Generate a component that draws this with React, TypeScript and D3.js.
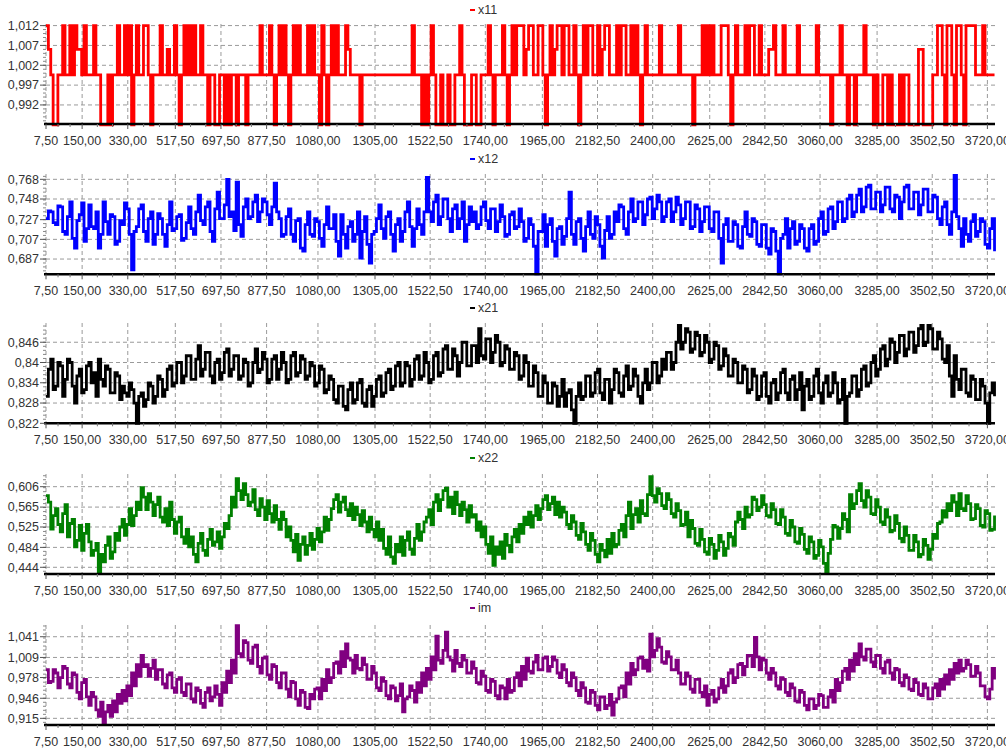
import React from "react";
import * as d3 from "d3";

const X_START = 7.5;
const X_STEP = 9.375;
const X_MAX = 3750;

const xTickValues = [7.5, 150, 330, 517.5, 697.5, 877.5, 1080, 1305, 1522.5, 1740, 1965, 2182.5, 2400, 2625, 2842.5, 3060, 3285, 3502.5, 3720];

const seriesNames = ["x11", "x12", "x21", "x22", "im"];

const x11 = [
  1.012, 1.006, 0.9996, 0.987, 0.987, 0.9996, 0.9996, 1.012, 0.9996, 0.9996, 1.012, 0.9996, 1.012, 1.006, 1.006, 0.9996, 1.012, 0.9996, 0.9996, 0.9996,
  1.012, 0.9996, 0.9996, 0.987, 0.987, 0.987, 0.9996, 0.987, 0.9996, 0.9996, 1.012, 0.9996, 0.9996, 1.012, 0.9996, 1.012, 0.987, 0.9996, 1.012, 0.9996,
  0.9996, 1.012, 1.012, 0.9996, 0.987, 0.9996, 0.9996, 0.9996, 1.012, 0.9996, 0.9996, 1.006, 0.9996, 0.9996, 1.012, 0.9996, 0.987, 0.9996, 1.012, 0.9996,
  1.012, 0.9996, 1.012, 0.9996, 0.9996, 1.012, 0.9996, 0.9996, 0.987, 0.9996, 0.9996, 0.987, 0.987, 0.9996, 0.9996, 0.987, 0.9996, 0.987, 0.9996, 0.9996,
  0.987, 0.9996, 0.9996, 0.9996, 0.987, 0.9996, 0.9996, 0.9996, 0.9996, 0.9996, 1.012, 0.9996, 0.9996, 0.9996, 1.012, 0.9996, 0.987, 0.9996, 1.012, 0.9996,
  1.012, 0.9996, 0.987, 0.9996, 1.012, 0.9996, 1.012, 0.9996, 0.9996, 0.9996, 1.012, 0.9996, 1.012, 0.9996, 0.9996, 0.987, 1.012, 0.9996, 0.987, 0.9996,
  1.012, 0.9996, 1.012, 0.9996, 0.9996, 0.9996, 1.012, 1.006, 0.9996, 0.9996, 0.9996, 0.9996, 0.987, 0.9996, 0.9996, 0.9996, 0.9996, 0.9996, 0.9996, 0.9996,
  0.9996, 0.9996, 0.9996, 0.9996, 0.9996, 0.9996, 0.9996, 0.9996, 0.9996, 0.9996, 0.9996, 0.9996, 0.9996, 0.9996, 1.012, 0.9996, 0.9996, 0.9996, 0.987, 0.9996,
  0.987, 0.9996, 1.012, 0.9996, 0.987, 0.987, 0.9996, 0.987, 0.987, 0.9996, 0.987, 0.987, 0.9996, 0.9996, 1.012, 0.9996, 0.987, 0.987, 0.987, 0.9996,
  0.9996, 0.987, 0.987, 0.9996, 0.9996, 0.9996, 1.012, 0.9996, 0.987, 0.9996, 0.9996, 0.9996, 1.012, 0.9996, 0.987, 0.9996, 1.012, 0.9996, 1.012, 1.012,
  1.012, 0.9996, 1.006, 1.012, 1.012, 0.9996, 0.9996, 1.012, 1.012, 0.9996, 0.987, 0.9996, 1.012, 0.9996, 1.006, 1.012, 1.012, 0.9996, 1.012, 1.012,
  0.9996, 0.9996, 1.012, 0.9996, 0.987, 0.9996, 1.012, 0.9996, 1.012, 1.012, 0.9996, 0.9996, 1.012, 0.9996, 1.006, 1.012, 1.012, 0.9996, 0.9996, 0.9996,
  1.012, 0.9996, 1.012, 1.012, 0.9996, 0.9996, 1.012, 0.9996, 1.012, 0.9996, 0.987, 0.9996, 1.012, 0.9996, 0.9996, 0.9996, 0.9996, 0.9996, 1.012, 0.9996,
  0.9996, 0.9996, 0.9996, 0.9996, 0.9996, 0.9996, 1.012, 0.9996, 0.9996, 0.9996, 0.9996, 0.9996, 0.987, 0.9996, 0.9996, 0.9996, 1.012, 0.9996, 1.012, 0.9996,
  1.012, 0.9996, 0.9996, 0.9996, 1.012, 1.012, 1.012, 0.9996, 0.987, 0.9996, 1.012, 0.9996, 0.9996, 0.9996, 1.012, 0.9996, 1.012, 1.012, 0.9996, 0.9996,
  1.012, 0.9996, 0.9996, 0.9996, 1.006, 1.006, 1.012, 0.9996, 0.9996, 0.9996, 1.012, 0.9996, 0.9996, 0.9996, 0.9996, 0.9996, 1.012, 0.9996, 0.9996, 0.9996,
  0.9996, 0.9996, 0.9996, 0.9996, 1.012, 0.9996, 0.9996, 0.9996, 0.9996, 0.9996, 0.987, 0.9996, 0.9996, 0.9996, 1.012, 0.9996, 0.9996, 0.987, 0.9996, 0.9996,
  0.987, 0.9996, 0.9996, 0.9996, 1.012, 0.9996, 0.9996, 0.9996, 0.987, 0.9996, 0.987, 0.987, 0.9996, 0.9996, 0.987, 0.9996, 0.987, 0.987, 0.987, 0.9996,
  0.987, 0.9996, 0.9996, 0.987, 0.987, 0.987, 0.987, 1.006, 1.006, 0.987, 0.987, 0.987, 0.987, 0.9996, 0.9996, 1.012, 1.012, 0.9996, 0.987, 1.012,
  1.012, 0.9996, 0.987, 1.012, 1.012, 0.9996, 0.987, 1.012, 1.012, 1.012, 1.012, 0.9996, 0.9996, 0.9996, 1.012, 0.9996, 0.9996, 0.9996, 0.9996, 0.9996,
];

const x12 = [
  0.728, 0.736, 0.735, 0.724, 0.722, 0.741, 0.740, 0.715, 0.712, 0.730, 0.745, 0.708, 0.698, 0.726, 0.732, 0.744, 0.705, 0.718, 0.742, 0.720,
  0.718, 0.735, 0.698, 0.712, 0.745, 0.725, 0.712, 0.732, 0.730, 0.702, 0.705, 0.726, 0.722, 0.744, 0.738, 0.712, 0.676, 0.715, 0.720, 0.738,
  0.742, 0.715, 0.705, 0.728, 0.735, 0.702, 0.712, 0.733, 0.728, 0.712, 0.700, 0.722, 0.745, 0.716, 0.718, 0.730, 0.732, 0.706, 0.708, 0.724,
  0.740, 0.718, 0.712, 0.735, 0.752, 0.726, 0.722, 0.740, 0.745, 0.715, 0.705, 0.738, 0.755, 0.728, 0.728, 0.742, 0.768, 0.730, 0.735, 0.716,
  0.765, 0.722, 0.710, 0.740, 0.748, 0.728, 0.730, 0.745, 0.752, 0.725, 0.735, 0.748, 0.745, 0.732, 0.722, 0.740, 0.764, 0.735, 0.728, 0.710,
  0.712, 0.730, 0.738, 0.712, 0.705, 0.726, 0.728, 0.698, 0.695, 0.722, 0.735, 0.712, 0.710, 0.728, 0.725, 0.708, 0.700, 0.722, 0.740, 0.718,
  0.718, 0.732, 0.705, 0.690, 0.732, 0.712, 0.698, 0.720, 0.725, 0.705, 0.712, 0.735, 0.688, 0.715, 0.730, 0.702, 0.683, 0.712, 0.715, 0.728,
  0.742, 0.718, 0.708, 0.730, 0.735, 0.712, 0.695, 0.722, 0.728, 0.705, 0.715, 0.735, 0.745, 0.720, 0.700, 0.718, 0.738, 0.722, 0.712, 0.735,
  0.770, 0.735, 0.725, 0.745, 0.752, 0.722, 0.730, 0.748, 0.748, 0.728, 0.715, 0.738, 0.742, 0.718, 0.728, 0.745, 0.705, 0.722, 0.740, 0.725,
  0.735, 0.718, 0.722, 0.740, 0.745, 0.726, 0.718, 0.738, 0.738, 0.715, 0.725, 0.742, 0.730, 0.710, 0.712, 0.732, 0.735, 0.718, 0.720, 0.738,
  0.725, 0.705, 0.708, 0.728, 0.722, 0.700, 0.672, 0.715, 0.715, 0.732, 0.700, 0.722, 0.728, 0.705, 0.690, 0.718, 0.720, 0.702, 0.710, 0.728,
  0.755, 0.712, 0.702, 0.725, 0.728, 0.708, 0.695, 0.720, 0.735, 0.712, 0.708, 0.730, 0.722, 0.700, 0.688, 0.716, 0.730, 0.708, 0.712, 0.735,
  0.725, 0.742, 0.740, 0.718, 0.712, 0.735, 0.748, 0.725, 0.728, 0.745, 0.745, 0.722, 0.732, 0.748, 0.750, 0.728, 0.738, 0.752, 0.745, 0.725,
  0.730, 0.745, 0.748, 0.725, 0.735, 0.750, 0.742, 0.722, 0.728, 0.745, 0.745, 0.718, 0.720, 0.742, 0.738, 0.715, 0.725, 0.740, 0.740, 0.718,
  0.715, 0.735, 0.735, 0.708, 0.683, 0.722, 0.728, 0.705, 0.705, 0.725, 0.722, 0.700, 0.698, 0.720, 0.735, 0.712, 0.710, 0.728, 0.725, 0.702,
  0.700, 0.722, 0.722, 0.698, 0.692, 0.718, 0.715, 0.695, 0.672, 0.708, 0.712, 0.728, 0.698, 0.718, 0.725, 0.702, 0.705, 0.722, 0.718, 0.698,
  0.695, 0.718, 0.722, 0.702, 0.705, 0.728, 0.735, 0.712, 0.715, 0.738, 0.740, 0.718, 0.725, 0.745, 0.745, 0.725, 0.728, 0.748, 0.752, 0.730,
  0.735, 0.752, 0.758, 0.735, 0.740, 0.760, 0.762, 0.738, 0.738, 0.755, 0.755, 0.735, 0.742, 0.760, 0.760, 0.738, 0.735, 0.752, 0.750, 0.728,
  0.745, 0.760, 0.762, 0.738, 0.738, 0.755, 0.755, 0.732, 0.742, 0.758, 0.758, 0.735, 0.735, 0.752, 0.750, 0.728, 0.722, 0.740, 0.745, 0.722,
  0.712, 0.735, 0.772, 0.730, 0.718, 0.700, 0.728, 0.712, 0.705, 0.725, 0.732, 0.710, 0.715, 0.728, 0.725, 0.702, 0.698, 0.718, 0.728, 0.695,
];

const x21 = [
  0.830, 0.838, 0.841, 0.832, 0.833, 0.840, 0.839, 0.830, 0.835, 0.841, 0.840, 0.833, 0.828, 0.836, 0.838, 0.831, 0.832, 0.839, 0.840, 0.834,
  0.837, 0.830, 0.841, 0.835, 0.833, 0.839, 0.838, 0.831, 0.831, 0.837, 0.836, 0.829, 0.833, 0.831, 0.830, 0.834, 0.832, 0.828, 0.822, 0.830,
  0.831, 0.827, 0.829, 0.834, 0.833, 0.828, 0.830, 0.836, 0.835, 0.830, 0.832, 0.838, 0.839, 0.833, 0.834, 0.840, 0.840, 0.834, 0.836, 0.842,
  0.842, 0.835, 0.835, 0.841, 0.845, 0.836, 0.838, 0.843, 0.843, 0.836, 0.834, 0.840, 0.841, 0.835, 0.837, 0.843, 0.844, 0.836, 0.838, 0.842,
  0.842, 0.835, 0.836, 0.841, 0.840, 0.833, 0.834, 0.840, 0.844, 0.837, 0.838, 0.843, 0.841, 0.834, 0.835, 0.841, 0.842, 0.835, 0.838, 0.843,
  0.840, 0.834, 0.835, 0.842, 0.843, 0.836, 0.837, 0.842, 0.841, 0.835, 0.836, 0.840, 0.839, 0.833, 0.834, 0.839, 0.838, 0.831, 0.832, 0.836,
  0.835, 0.829, 0.828, 0.833, 0.833, 0.827, 0.826, 0.832, 0.834, 0.828, 0.829, 0.834, 0.835, 0.828, 0.827, 0.832, 0.833, 0.827, 0.830, 0.835,
  0.836, 0.830, 0.831, 0.837, 0.838, 0.832, 0.833, 0.839, 0.840, 0.833, 0.834, 0.840, 0.839, 0.833, 0.835, 0.841, 0.842, 0.835, 0.836, 0.843,
  0.840, 0.834, 0.835, 0.842, 0.843, 0.836, 0.837, 0.844, 0.845, 0.838, 0.838, 0.844, 0.842, 0.836, 0.840, 0.846, 0.846, 0.839, 0.839, 0.845,
  0.845, 0.840, 0.850, 0.842, 0.841, 0.847, 0.847, 0.840, 0.843, 0.848, 0.846, 0.839, 0.840, 0.845, 0.844, 0.838, 0.838, 0.843, 0.842, 0.835,
  0.836, 0.842, 0.840, 0.833, 0.833, 0.839, 0.837, 0.830, 0.830, 0.836, 0.834, 0.828, 0.828, 0.834, 0.833, 0.827, 0.830, 0.835, 0.827, 0.831,
  0.832, 0.826, 0.822, 0.830, 0.834, 0.829, 0.830, 0.836, 0.836, 0.830, 0.831, 0.837, 0.838, 0.831, 0.829, 0.835, 0.835, 0.828, 0.832, 0.838,
  0.837, 0.831, 0.830, 0.836, 0.839, 0.832, 0.833, 0.838, 0.836, 0.830, 0.828, 0.834, 0.838, 0.832, 0.834, 0.840, 0.840, 0.834, 0.836, 0.841,
  0.838, 0.843, 0.843, 0.838, 0.840, 0.846, 0.851, 0.844, 0.846, 0.850, 0.849, 0.843, 0.844, 0.849, 0.848, 0.842, 0.843, 0.848, 0.846, 0.840,
  0.841, 0.846, 0.845, 0.838, 0.839, 0.844, 0.842, 0.836, 0.836, 0.841, 0.840, 0.834, 0.834, 0.839, 0.838, 0.831, 0.832, 0.838, 0.836, 0.829,
  0.830, 0.836, 0.837, 0.830, 0.828, 0.834, 0.835, 0.829, 0.831, 0.837, 0.838, 0.831, 0.829, 0.835, 0.836, 0.829, 0.832, 0.837, 0.826, 0.833,
  0.835, 0.829, 0.830, 0.836, 0.838, 0.831, 0.828, 0.834, 0.836, 0.830, 0.831, 0.837, 0.834, 0.828, 0.829, 0.835, 0.822, 0.830, 0.831, 0.836,
  0.836, 0.830, 0.832, 0.838, 0.839, 0.833, 0.834, 0.840, 0.842, 0.836, 0.838, 0.844, 0.845, 0.839, 0.841, 0.847, 0.846, 0.840, 0.843, 0.848,
  0.848, 0.842, 0.844, 0.849, 0.849, 0.843, 0.845, 0.850, 0.851, 0.845, 0.846, 0.851, 0.850, 0.844, 0.844, 0.849, 0.847, 0.841, 0.840, 0.845,
  0.836, 0.830, 0.842, 0.835, 0.832, 0.838, 0.838, 0.831, 0.830, 0.836, 0.835, 0.829, 0.829, 0.835, 0.833, 0.828, 0.822, 0.831, 0.834, 0.830,
];

const x22 = [
  0.588, 0.575, 0.521, 0.548, 0.562, 0.530, 0.515, 0.552, 0.570, 0.505, 0.532, 0.540, 0.485, 0.498, 0.528, 0.478, 0.512, 0.530, 0.495, 0.468,
  0.478, 0.492, 0.433, 0.470, 0.455, 0.488, 0.505, 0.462, 0.475, 0.512, 0.498, 0.525, 0.540, 0.508, 0.530, 0.562, 0.528, 0.548, 0.575, 0.560,
  0.604, 0.585, 0.560, 0.592, 0.575, 0.548, 0.570, 0.585, 0.545, 0.535, 0.562, 0.528, 0.575, 0.540, 0.512, 0.535, 0.545, 0.505, 0.492, 0.520,
  0.485, 0.505, 0.470, 0.455, 0.492, 0.512, 0.478, 0.468, 0.500, 0.520, 0.488, 0.495, 0.515, 0.482, 0.505, 0.532, 0.522, 0.548, 0.585, 0.565,
  0.622, 0.598, 0.580, 0.612, 0.590, 0.568, 0.575, 0.600, 0.560, 0.548, 0.582, 0.565, 0.540, 0.578, 0.552, 0.535, 0.568, 0.540, 0.520, 0.555,
  0.540, 0.505, 0.525, 0.498, 0.475, 0.510, 0.458, 0.490, 0.505, 0.470, 0.488, 0.512, 0.480, 0.500, 0.522, 0.495, 0.515, 0.545, 0.518, 0.540,
  0.562, 0.580, 0.590, 0.555, 0.575, 0.585, 0.560, 0.548, 0.572, 0.540, 0.565, 0.550, 0.528, 0.558, 0.535, 0.515, 0.545, 0.520, 0.505, 0.535,
  0.498, 0.520, 0.482, 0.470, 0.505, 0.465, 0.452, 0.490, 0.475, 0.505, 0.468, 0.498, 0.515, 0.480, 0.470, 0.502, 0.530, 0.498, 0.515, 0.535,
  0.545, 0.560, 0.530, 0.575, 0.590, 0.558, 0.580, 0.598, 0.603, 0.565, 0.585, 0.552, 0.595, 0.570, 0.548, 0.575, 0.560, 0.535, 0.568, 0.545,
  0.550, 0.518, 0.535, 0.505, 0.525, 0.490, 0.472, 0.505, 0.448, 0.485, 0.470, 0.495, 0.462, 0.510, 0.488, 0.475, 0.505, 0.520, 0.495, 0.530,
  0.512, 0.545, 0.530, 0.555, 0.525, 0.548, 0.568, 0.540, 0.562, 0.580, 0.588, 0.560, 0.572, 0.585, 0.550, 0.575, 0.545, 0.565, 0.555, 0.530,
  0.522, 0.548, 0.535, 0.508, 0.500, 0.532, 0.515, 0.490, 0.478, 0.512, 0.498, 0.470, 0.455, 0.490, 0.478, 0.465, 0.500, 0.472, 0.512, 0.485,
  0.490, 0.518, 0.530, 0.505, 0.548, 0.575, 0.522, 0.550, 0.562, 0.535, 0.578, 0.552, 0.548, 0.590, 0.626, 0.588, 0.575, 0.602, 0.592, 0.568,
  0.562, 0.592, 0.580, 0.552, 0.545, 0.572, 0.558, 0.528, 0.530, 0.555, 0.505, 0.538, 0.522, 0.492, 0.488, 0.520, 0.500, 0.475, 0.470, 0.502,
  0.490, 0.462, 0.478, 0.508, 0.495, 0.468, 0.482, 0.512, 0.505, 0.488, 0.535, 0.555, 0.540, 0.522, 0.565, 0.545, 0.550, 0.585, 0.580, 0.558,
  0.565, 0.588, 0.570, 0.548, 0.545, 0.572, 0.560, 0.532, 0.530, 0.560, 0.545, 0.512, 0.508, 0.538, 0.525, 0.495, 0.492, 0.522, 0.510, 0.480,
  0.472, 0.505, 0.495, 0.462, 0.468, 0.498, 0.485, 0.452, 0.433, 0.472, 0.500, 0.528, 0.525, 0.502, 0.522, 0.552, 0.540, 0.515, 0.590, 0.562,
  0.572, 0.598, 0.612, 0.578, 0.565, 0.598, 0.585, 0.552, 0.550, 0.580, 0.565, 0.535, 0.530, 0.560, 0.545, 0.515, 0.518, 0.548, 0.532, 0.502,
  0.495, 0.525, 0.508, 0.478, 0.478, 0.508, 0.495, 0.465, 0.470, 0.500, 0.488, 0.460, 0.480, 0.510, 0.502, 0.532, 0.535, 0.558, 0.545, 0.572,
  0.558, 0.588, 0.575, 0.548, 0.592, 0.562, 0.558, 0.588, 0.572, 0.540, 0.542, 0.570, 0.562, 0.528, 0.525, 0.558, 0.552, 0.518, 0.520, 0.548,
];

const im = [
  0.990, 0.970, 0.972, 0.990, 0.985, 0.962, 0.978, 0.995, 0.992, 0.968, 0.962, 0.985, 0.982, 0.955, 0.945, 0.970, 0.975, 0.948, 0.935, 0.955,
  0.948, 0.928, 0.918, 0.940, 0.906, 0.925, 0.935, 0.918, 0.942, 0.925, 0.952, 0.938, 0.958, 0.942, 0.965, 0.950, 0.985, 0.965, 0.998, 0.980,
  1.012, 0.995, 0.998, 0.980, 0.992, 1.005, 0.975, 0.990, 0.990, 0.968, 0.962, 0.982, 0.985, 0.962, 0.955, 0.975, 0.978, 0.955, 0.950, 0.968,
  0.968, 0.945, 0.940, 0.962, 0.958, 0.938, 0.932, 0.955, 0.962, 0.942, 0.948, 0.965, 0.952, 0.935, 0.970, 0.955, 0.988, 0.970, 1.005, 0.985,
  1.058, 1.015, 1.010, 1.035, 1.032, 1.005, 1.000, 1.025, 1.028, 0.995, 0.985, 1.008, 1.010, 0.982, 0.975, 0.998, 0.995, 0.970, 0.962, 0.985,
  0.985, 0.960, 0.948, 0.972, 0.970, 0.945, 0.935, 0.958, 0.955, 0.932, 0.930, 0.952, 0.945, 0.960, 0.962, 0.945, 0.975, 0.958, 0.990, 0.970,
  0.978, 1.000, 1.002, 0.985, 1.018, 0.995, 1.030, 1.008, 1.005, 0.985, 1.012, 0.992, 0.990, 1.008, 0.998, 0.975, 0.975, 0.995, 0.985, 0.962,
  0.958, 0.978, 0.972, 0.950, 0.945, 0.965, 0.962, 0.942, 0.950, 0.968, 0.925, 0.945, 0.948, 0.965, 0.958, 0.940, 0.970, 0.955, 0.985, 0.965,
  0.992, 0.975, 1.010, 0.990, 1.042, 1.005, 1.000, 1.020, 1.048, 1.010, 1.005, 0.988, 1.020, 1.000, 0.995, 1.012, 1.005, 0.985, 0.985, 1.002,
  0.992, 0.970, 0.968, 0.988, 0.980, 0.958, 0.955, 0.975, 0.972, 0.950, 0.945, 0.965, 0.962, 0.945, 0.975, 0.955, 0.958, 0.978, 0.985, 0.965,
  0.995, 0.975, 1.008, 0.988, 0.985, 1.002, 1.012, 0.990, 0.990, 1.008, 1.010, 0.988, 0.995, 1.010, 1.005, 0.985, 0.978, 0.998, 0.990, 0.970,
  0.965, 0.985, 0.978, 0.958, 0.950, 0.970, 0.962, 0.940, 0.938, 0.958, 0.955, 0.935, 0.928, 0.948, 0.948, 0.930, 0.935, 0.952, 0.920, 0.940,
  0.945, 0.962, 0.965, 0.948, 0.985, 0.968, 1.000, 0.982, 0.990, 1.008, 1.010, 0.992, 1.005, 0.988, 1.045, 1.010, 1.020, 1.038, 1.025, 1.002,
  1.000, 1.018, 1.010, 0.990, 0.990, 1.005, 0.985, 0.968, 0.968, 0.985, 0.980, 0.960, 0.955, 0.975, 0.975, 0.955, 0.948, 0.965, 0.935, 0.952,
  0.958, 0.940, 0.945, 0.962, 0.975, 0.955, 0.965, 0.985, 0.990, 0.970, 0.978, 0.998, 1.000, 0.982, 0.995, 1.012, 1.012, 0.995, 1.040, 1.010,
  0.990, 1.008, 1.005, 0.985, 0.975, 0.992, 0.985, 0.965, 0.960, 0.978, 0.975, 0.955, 0.950, 0.968, 0.962, 0.942, 0.940, 0.958, 0.955, 0.935,
  0.928, 0.945, 0.945, 0.930, 0.935, 0.952, 0.950, 0.932, 0.932, 0.948, 0.958, 0.940, 0.975, 0.958, 0.970, 0.988, 0.992, 0.975, 1.005, 0.988,
  1.015, 0.998, 1.030, 1.010, 1.005, 1.022, 1.022, 1.002, 0.995, 1.012, 1.012, 0.992, 0.985, 1.002, 1.005, 0.985, 0.975, 0.992, 0.990, 0.970,
  0.965, 0.982, 0.978, 0.960, 0.958, 0.975, 0.970, 0.952, 0.950, 0.968, 0.962, 0.945, 0.945, 0.962, 0.968, 0.950, 0.975, 0.960, 0.982, 0.968,
  0.990, 0.975, 1.000, 0.985, 1.005, 0.988, 0.992, 1.005, 0.998, 0.980, 0.980, 0.995, 0.985, 0.965, 0.965, 0.948, 0.945, 0.960, 0.992, 0.975,
];

const yTicksX11 = [0.992, 0.997, 1.002, 1.007, 1.012];
const yTicksX12 = [0.687, 0.707, 0.727, 0.748, 0.768];
const yTicksX21 = [0.822, 0.828, 0.834, 0.84, 0.846];
const yTicksX22 = [0.444, 0.484, 0.525, 0.565, 0.606];
const yTicksIm = [0.915, 0.946, 0.978, 1.009, 1.041];

const yDomX11 = [0.9872, 1.0124];
const yDomX12 = [0.6715, 0.7734];
const yDomX21 = [0.822, 0.8517];
const yDomX22 = [0.4305, 0.6315];
const yDomIm = [0.9047, 1.0591];

const panels = [
  { name: seriesNames[0], values: x11, ticks: yTicksX11, dom: yDomX11, color: "#ff0000", top: 24, bottom: 124, legendY: 10 },
  { name: seriesNames[1], values: x12, ticks: yTicksX12, dom: yDomX12, color: "#0000ff", top: 174, bottom: 274.3, legendY: 159 },
  { name: seriesNames[2], values: x21, ticks: yTicksX21, dom: yDomX21, color: "#000000", top: 323, bottom: 423.3, legendY: 308 },
  { name: seriesNames[3], values: x22, ticks: yTicksX22, dom: yDomX22, color: "#008000", top: 474, bottom: 574, legendY: 458 },
  { name: seriesNames[4], values: im, ticks: yTicksIm, dom: yDomIm, color: "#800080", top: 625, bottom: 725, legendY: 608 },
];

const LEFT = 46;
const RIGHT = 995;
const TEXT = "#333333";
const GRID = "#9a9a9a";
const FONT = "'Liberation Sans', Arial, sans-serif";

const fmtY = (v: number) => {
  let s = v.toFixed(3).replace(/0+$/, "");
  if (s.endsWith(".")) s = s.slice(0, -1);
  return s.replace(".", ",");
};
const fmtX = (v: number) => v.toFixed(2).replace(".", ",");

export default function App() {
  const x = d3.scaleLinear().domain([X_START, X_MAX]).range([LEFT, RIGHT]);
  const minorX: number[] = [];
  for (let k = 0; k < xTickValues.length; k++) {
    const a = xTickValues[k];
    const b = k + 1 < xTickValues.length ? xTickValues[k + 1] : a + (a - xTickValues[k - 1]);
    for (let j = 1; j < 3; j++) {
      const v = a + ((b - a) * j) / 3;
      if (v <= X_MAX) minorX.push(v);
    }
  }
  return (
    <svg
      width={1006}
      height={753}
      style={{ position: "absolute", left: 0, top: 0, background: "#ffffff" }}
      fontFamily={FONT}
    >
      {panels.map((p) => {
        const y = d3.scaleLinear().domain(p.dom).range([p.bottom, p.top]);
        const data = p.values.map((v, i) => [X_START + i * X_STEP, v] as [number, number]);
        const line = d3
          .line<[number, number]>()
          .x((d) => x(d[0]))
          .y((d) => y(d[1]))
          .curve(d3.curveStepAfter);
        const step = p.ticks[1] - p.ticks[0];
        const minorY: number[] = [];
        for (let v = p.ticks[0] - step; v < p.dom[1]; v += step / 5) {
          if (v > p.dom[0] && v < p.dom[1]) minorY.push(v);
        }
        return (
          <g key={p.name}>
            {p.ticks.map((t) => (
              <line key={"h" + t} x1={LEFT} x2={RIGHT} y1={y(t)} y2={y(t)} stroke={GRID} strokeDasharray="4,3" strokeWidth={1} />
            ))}
            {xTickValues.map((t) => (
              <line key={"v" + t} x1={x(t)} x2={x(t)} y1={p.top} y2={p.bottom} stroke={GRID} strokeDasharray="4,3" strokeWidth={1} />
            ))}
            {minorY.map((v, i) => (
              <line key={"my" + i} x1={LEFT - 3} x2={LEFT} y1={y(v)} y2={y(v)} stroke="#888" strokeWidth={1} />
            ))}
            <path d={line(data) || ""} fill="none" stroke={p.color} strokeWidth={2.8} strokeLinejoin="miter" />
            <line x1={LEFT - 2} x2={RIGHT} y1={p.bottom} y2={p.bottom} stroke="#000" strokeWidth={2.6} />
            {xTickValues.map((t) => (
              <line key={"xt" + t} x1={x(t)} x2={x(t)} y1={p.bottom} y2={p.bottom + 5} stroke="#555" strokeWidth={1} />
            ))}
            {minorX.map((t, i) => (
              <line key={"xm" + i} x1={x(t)} x2={x(t)} y1={p.bottom} y2={p.bottom + 3} stroke="#777" strokeWidth={1} />
            ))}
            {xTickValues.map((t) => (
              <text key={"xl" + t} x={x(t)} y={p.bottom + 21} textAnchor="middle" fontSize={12.5} fill={TEXT}>
                {fmtX(t)}
              </text>
            ))}
            {p.ticks.map((t) => (
              <g key={"yl" + t}>
                <line x1={LEFT - 6} x2={LEFT} y1={y(t)} y2={y(t)} stroke="#555" strokeWidth={1} />
                <text x={LEFT - 7} y={y(t)} dy="0.35em" textAnchor="end" fontSize={12.5} fill={TEXT}>
                  {fmtY(t)}
                </text>
              </g>
            ))}
            <line x1={470} x2={475} y1={p.legendY} y2={p.legendY} stroke={p.color} strokeWidth={2} />
            <text x={478} y={p.legendY} dy="0.35em" fontSize={12.5} fill={TEXT}>
              {p.name}
            </text>
          </g>
        );
      })}
    </svg>
  );
}
